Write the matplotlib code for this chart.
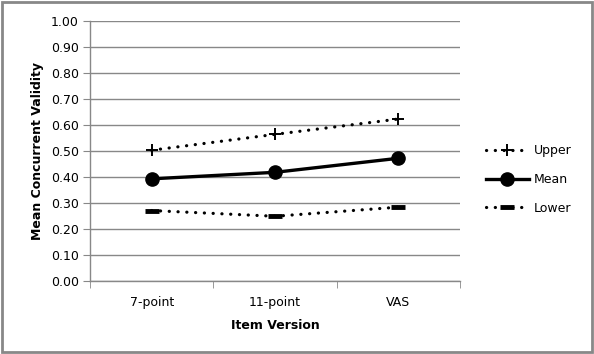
import matplotlib
matplotlib.use("Agg")
import matplotlib.pyplot as plt
from matplotlib.patches import Rectangle

categories = ["7-point", "11-point", "VAS"]
upper = [0.503, 0.564, 0.623]
mean = [0.393, 0.418, 0.472]
lower = [0.271, 0.249, 0.284]
yticks = [0.0, 0.1, 0.2, 0.3, 0.4, 0.5, 0.6, 0.7, 0.8, 0.9, 1.0]

plt.rcParams['font.family'] = ['DejaVu Sans']
fig = plt.figure(figsize=(5.94, 3.54), dpi=100)
fig.patches.append(Rectangle((0.004, 0.006), 0.992, 0.988, transform=fig.transFigure,
                             fill=False, edgecolor='#888888', linewidth=2))
ax = fig.add_axes([90/594, 1-281/354, 370/594, 260/354])
x = list(range(len(categories)))

dots = (0, (0.05, 2.7))
ax.plot(x, upper, color='black', linestyle=dots, linewidth=2.3,
        dash_capstyle='round', marker='+', markersize=8, markeredgewidth=1.4, label='Upper')
ax.plot(x, mean, color='black', linestyle='-', linewidth=2.4,
        marker='o', markersize=9.5, label='Mean')
ax.plot(x, lower, color='black', linestyle=dots, linewidth=2.3,
        dash_capstyle='round', marker='_', markersize=10, markeredgewidth=3.5, label='Lower')

ax.set_xlim(-0.5, 2.5)
ax.set_ylim(0, 1.0)
ax.set_yticks(yticks)
ax.set_yticklabels([f"{v:.2f}" for v in yticks], fontsize=9)
ax.set_xticks(x)
ax.set_xticklabels(categories, fontsize=9)
ax.set_xticks([-0.5, 0.5, 1.5, 2.5], minor=True)
ax.tick_params(axis='x', which='major', length=0, pad=11)
ax.tick_params(axis='x', which='minor', length=5, color='#888888', direction='out')
ax.tick_params(axis='y', length=5, color='#888888', direction='out', pad=3)
ax.grid(axis='y', color='#888888', linewidth=1)
ax.set_axisbelow(True)
for s in ['top', 'right']:
    ax.spines[s].set_visible(False)
for s in ['left', 'bottom']:
    ax.spines[s].set_color('#888888')
    ax.spines[s].set_linewidth(1)

ax.set_xlabel("Item Version", fontsize=9, fontweight='bold', labelpad=7)
ax.set_ylabel("Mean Concurrent Validity", fontsize=9, fontweight='bold', labelpad=5)

leg = ax.legend(loc='center left', bbox_to_anchor=(1.04, 0.39), frameon=False,
                fontsize=9, handlelength=3.4, labelspacing=1.25, handletextpad=0.4)

fig.savefig("out.png", dpi=100)
